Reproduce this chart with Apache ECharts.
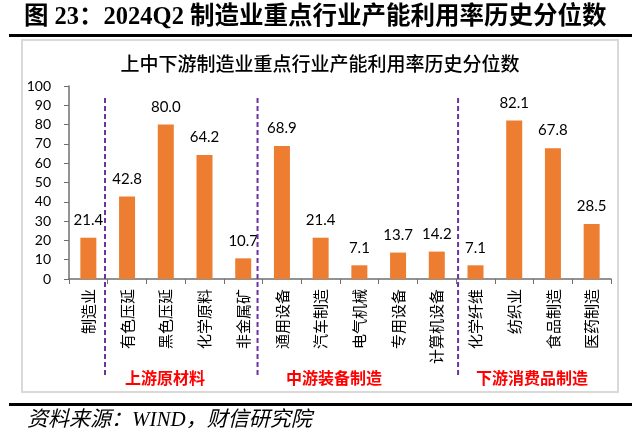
<!DOCTYPE html>
<html><head><meta charset="utf-8">
<script src="https://cdn.jsdelivr.net/npm/echarts@6/dist/echarts.min.js"></script>
<style>html,body{margin:0;padding:0;background:#fff}#c{width:640px;height:440px}</style>
</head><body><div id="c"></div>
<script>
const categories = ['制造业','有色压延','黑色压延','化学原料','非金属矿','通用设备','汽车制造','电气机械','专用设备','计算机设备','化学纤维','纺织业','食品制造','医药制造'];
const values = [21.4, 42.8, 80.0, 64.2, 10.7, 68.9, 21.4, 7.1, 13.7, 14.2, 7.1, 82.1, 67.8, 28.5];
const dividers = [0.93, 4.87, 10.05];
const groups = ['上游原材料', '中游装备制造', '下游消费品制造'];
const groupCenters = [165, 334, 532];
const title = '图 23：2024Q2 制造业重点行业产能利用率历史分位数';
const subTitle = '上中下游制造业重点行业产能利用率历史分位数';
const source = '资料来源：WIND，财信研究院';

const chart = echarts.init(document.getElementById('c'), null, {renderer: 'canvas'});
const dividerSeries = dividers.map(d => ({
  type: 'line', xAxisIndex: 1, yAxisIndex: 1, symbol: 'none', silent: true,
  lineStyle: {color: '#7030A0', width: 2, type: [5, 3]},
  data: [[d, 0], [d, 1]], z: 5
}));
const graphics = [
  {type: 'rect', shape: {x: 22, y: 40, width: 596, height: 352}, style: {fill: '#fff', stroke: '#D9D9D9', lineWidth: 2}, z: -10},
  {type: 'text', left: 24, top: 5, style: {text: title, font: 'bold 24.5px "Liberation Serif", "Noto Sans CJK SC"', fill: '#000'}},
  {type: 'rect', shape: {x: 9, y: 34, width: 623, height: 3}, style: {fill: '#000'}},
  {type: 'rect', shape: {x: 9, y: 403, width: 623, height: 3}, style: {fill: '#000'}},
  {type: 'text', left: 27, top: 410, style: {text: source, font: 'italic 21px "Liberation Serif", "Noto Sans CJK SC"', fill: '#000'}}
];
groups.forEach((g, i) => graphics.push({type: 'text', x: groupCenters[i], y: 378, style: {text: g, font: 'bold 16px "Noto Sans CJK SC"', fill: '#FF0000', textAlign: 'center', textVerticalAlign: 'middle'}}));

chart.setOption({
  animation: false,
  title: {text: subTitle, left: 'center', top: 49, textStyle: {fontFamily: 'Noto Sans CJK SC', fontSize: 19, fontWeight: 500, color: '#000'}},
  grid: [
    {left: 69, right: 29, top: 86, bottom: 161},
    {left: 69, right: 29, top: 95, bottom: 65}
  ],
  xAxis: [
    {type: 'category', data: categories, gridIndex: 0,
     axisLine: {lineStyle: {color: '#6F6F6F', width: 1.5}},
     axisTick: {show: true, length: 5, lineStyle: {color: '#6F6F6F'}},
     axisLabel: {rotate: 90, margin: 10, fontFamily: 'Noto Sans CJK SC', fontSize: 15, color: '#000'}},
    {type: 'value', gridIndex: 1, min: 0, max: 14, show: false}
  ],
  yAxis: [
    {type: 'value', gridIndex: 0, min: 0, max: 100, interval: 10,
     splitLine: {show: false},
     axisLine: {show: true, lineStyle: {color: '#6F6F6F', width: 1.5}},
     axisTick: {show: true, length: 5, lineStyle: {color: '#6F6F6F'}},
     axisLabel: {margin: 18, fontFamily: 'Lato', fontSize: 14, color: '#000'}},
    {type: 'value', gridIndex: 1, min: 0, max: 1, show: false}
  ],
  series: [
    {type: 'bar', data: values, barWidth: 16, itemStyle: {color: '#ED7D31'},
     label: {show: true, position: 'top', distance: 10, fontFamily: 'Lato', fontSize: 15, color: '#000', formatter: p => p.value.toFixed(1)}}
  ].concat(dividerSeries),
  graphic: graphics
});
</script></body></html>
